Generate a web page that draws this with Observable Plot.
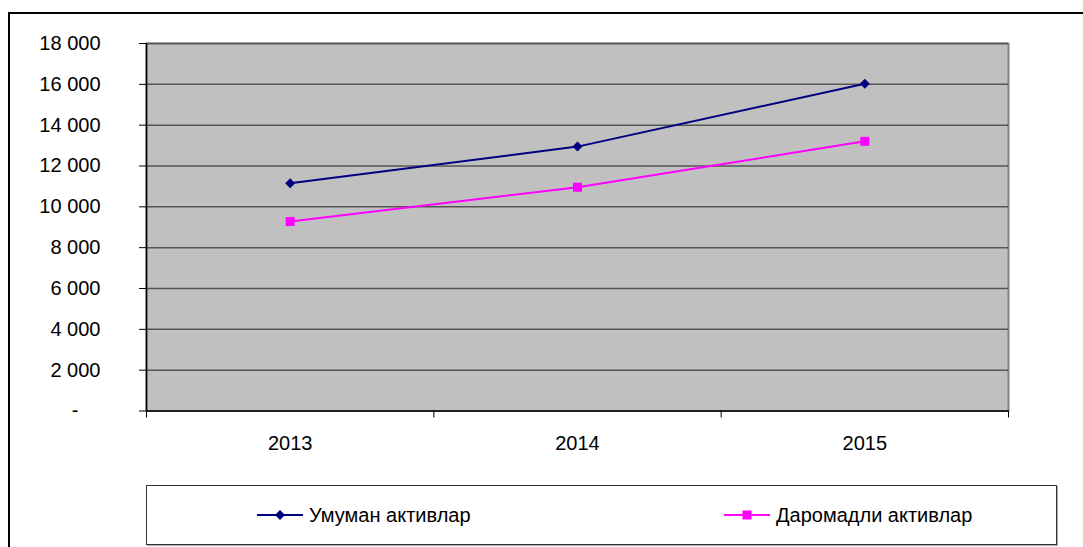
<!DOCTYPE html>
<html>
<head>
<meta charset="utf-8">
<script src="https://cdn.jsdelivr.net/npm/d3@7"></script>
<script src="https://cdn.jsdelivr.net/npm/@observablehq/plot@0.6"></script>
<style>
  html, body { margin: 0; padding: 0; background: #fff; }
  #wrap { position: relative; width: 1083px; height: 547px; overflow: hidden; font-family: "Liberation Sans", Arial, sans-serif; }
  #border { position: absolute; left: 8px; top: 12px; width: 1200px; height: 700px; border-top: 2px solid #000; border-left: 2px solid #000; }
  #chart { position: absolute; left: 0; top: 0; }
  #legend { position: absolute; left: 146px; top: 485px; width: 909px; height: 58px; border: 1px solid #333; box-shadow: 1px 1px 0 #aaa; background: #fff; }
  .item { position: absolute; top: 0; height: 58px; display: flex; align-items: center; font-size: 20px; color: #000; white-space: nowrap; }
  .item svg { margin-right: 6px; }
</style>
</head>
<body>
<div id="wrap">
  <div id="border"></div>
  <div id="chart"></div>
  <div id="legend"></div>
</div>
<script>
// ---- data ----
const years = [2013, 2014, 2015];
const seriesNames = ["Умуман активлар", "Даромадли активлар"];
const totalAssets = [11160, 12950, 16030];
const earningAssets = [9280, 10960, 13210];
const seriesColors = ["#000080", "#FF00FF"];
const yTicks = [0, 2000, 4000, 6000, 8000, 10000, 12000, 14000, 16000, 18000];

// ---- build table ----
const data = [];
years.forEach((yr, i) => {
  data.push({year: yr, value: totalAssets[i], series: seriesNames[0]});
  data.push({year: yr, value: earningAssets[i], series: seriesNames[1]});
});
const s0 = data.filter(d => d.series === seriesNames[0]);
const s1 = data.filter(d => d.series === seriesNames[1]);

const boundaries = years.map(y => y - 0.5).concat([years[years.length - 1] + 0.5]);
const fmt = v => d3.format(",")(v).replace(/,/g, " ");

const diamond = {draw(ctx, size) { const h = Math.sqrt(size / Math.PI); ctx.moveTo(0, -h); ctx.lineTo(h, 0); ctx.lineTo(0, h); ctx.lineTo(-h, 0); ctx.closePath(); }};
const square = {draw(ctx, size) { const h = Math.sqrt(size / Math.PI); ctx.rect(-h, -h, 2 * h, 2 * h); }};

const plot = Plot.plot({
  width: 1083,
  height: 470,
  marginTop: 43,
  marginLeft: 146,
  marginRight: 75,
  marginBottom: 59.5,
  style: {fontFamily: "Liberation Sans, Arial, sans-serif", fontSize: "20px", color: "#000", background: "transparent"},
  x: {type: "linear", domain: [boundaries[0], boundaries[boundaries.length - 1]]},
  y: {domain: [yTicks[0], yTicks[yTicks.length - 1]]},
  marks: [
    Plot.frame({fill: "#C0C0C0", stroke: "#808080", strokeWidth: 2}),
    Plot.ruleY(yTicks.slice(1), {stroke: "#555", strokeWidth: 1.5}),
    Plot.ruleX([boundaries[0]], {stroke: "#000", strokeWidth: 1.5}),
    Plot.ruleY([0], {stroke: "#000", strokeWidth: 1.5}),
    Plot.axisY({ticks: yTicks.slice(1), tickSize: 7, tickPadding: 39, tickFormat: fmt, label: null, stroke: "#000"}),
    Plot.axisY({ticks: [0], tickSize: 7, tickPadding: 61, tickFormat: () => "-", label: null, stroke: "#000"}),
    Plot.axisX({ticks: boundaries, tickSize: 7, tickFormat: () => "", label: null, stroke: "#000"}),
    Plot.axisX({ticks: years, tickSize: 0, tickPadding: 25, tickFormat: d => String(d), label: null}),
    Plot.line(s0, {x: "year", y: "value", stroke: seriesColors[0], strokeWidth: 2}),
    Plot.line(s1, {x: "year", y: "value", stroke: seriesColors[1], strokeWidth: 2}),
    Plot.dot(s0, {x: "year", y: "value", symbol: diamond, r: 5, fill: seriesColors[0], stroke: "none"}),
    Plot.dot(s1, {x: "year", y: "value", symbol: square, r: 4.5, fill: seriesColors[1], stroke: "none"})
  ]
});
document.getElementById("chart").appendChild(plot);

// ---- legend ----
const legend = document.getElementById("legend");
const legendLeft = [110, 577];
const markerPaths = [
  '<path d="M23,-5 L28,0 L23,5 L18,0 Z" fill="COLOR"/>',
  '<rect x="18.5" y="-4.5" width="9" height="9" fill="COLOR"/>'
];
seriesNames.forEach((name, i) => {
  const item = document.createElement("div");
  item.className = "item";
  item.style.left = legendLeft[i] + "px";
  item.innerHTML = '<svg width="46" height="12" viewBox="0 -6 46 12"><line x1="0" x2="46" y1="0" y2="0" stroke="' + seriesColors[i] + '" stroke-width="2"/>' +
    markerPaths[i].replace("COLOR", seriesColors[i]) + '</svg><span>' + name + '</span>';
  legend.appendChild(item);
});
</script>
</body>
</html>
